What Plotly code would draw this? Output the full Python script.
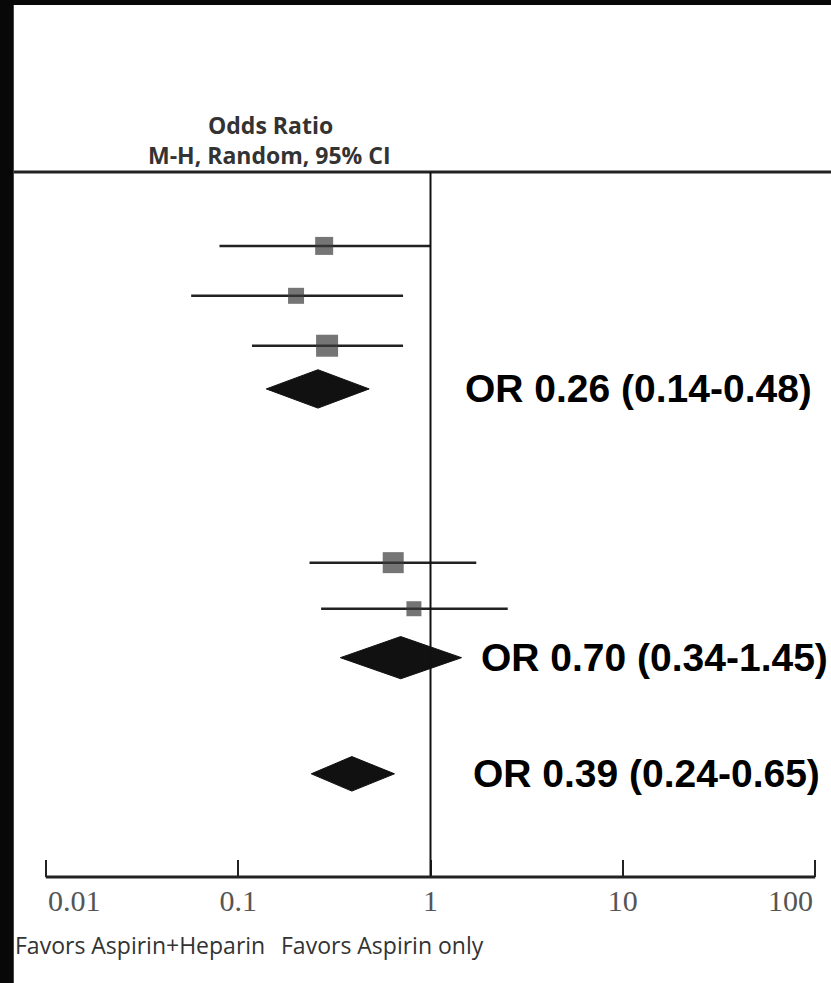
import math
import plotly.graph_objects as go

# ---- data ----
study_rows = [1, 2.04, 3.08, 7.6, 8.56]
study_or = [0.28, 0.20, 0.29, 0.64, 0.82]
study_lo = [0.08, 0.057, 0.118, 0.235, 0.27]
study_hi = [1.0, 0.72, 0.72, 1.73, 2.52]
study_weight = [18, 16, 22, 21, 15]

pooled_rows = [3.98, 9.58, 12.0]
pooled_or = [0.26, 0.70, 0.39]
pooled_lo = [0.14, 0.34, 0.24]
pooled_hi = [0.48, 1.45, 0.65]
pooled_labels = ["OR 0.26 (0.14-0.48)", "OR 0.70 (0.34-1.45)", "OR 0.39 (0.24-0.65)"]
label_at = [1.48, 1.78, 1.63]  # odds-ratio position where each label starts

tick_vals = [0.01, 0.1, 1, 10, 100]
tick_text = ["0.01", "0.1", "1", "10", "100"]

W, H = 831, 983
X0PIX, X1PIX = 46, 815          # pixel of 0.01 and 100
DEC = (X1PIX - X0PIX) / 4       # pixels per decade
PAD = 0.03                      # extra range (decades) beyond 0.01 / 100
L = X0PIX - PAD * DEC
R = (W - X1PIX) - PAD * DEC
T, B = 172, 106
PW, PH = W - L - R, H - T - B

def px(xpix):
    return (xpix - L) / PW

def py(ypix):
    return 1 - (ypix - T) / PH

fig = go.Figure()

# CI lines
for r, lo, hi in zip(study_rows, study_lo, study_hi):
    fig.add_trace(go.Scatter(x=[lo, hi], y=[r, r], mode="lines",
                             line=dict(color="#222222", width=2.5),
                             hoverinfo="skip", showlegend=False))
# squares
fig.add_trace(go.Scatter(x=study_or, y=study_rows, mode="markers",
                         marker=dict(symbol="square", size=study_weight, color="#3a3a3a",
                                     line=dict(width=0)),
                         showlegend=False))

# diamonds
half_h = [0.4, 0.44, 0.36]
for r, o, lo, hi, hh in zip(pooled_rows, pooled_or, pooled_lo, pooled_hi, half_h):
    fig.add_trace(go.Scatter(x=[lo, o, hi, o, lo], y=[r, r - hh, r, r + hh, r],
                             mode="lines", fill="toself", fillcolor="#111111",
                             line=dict(color="#111111", width=1),
                             hoverinfo="skip", showlegend=False))

# OR annotations (log axis -> annotation x in log10 units)
for r, lab, lx in zip(pooled_rows, pooled_labels, label_at):
    fig.add_annotation(x=math.log10(lx), y=r, xref="x", yref="y", text=lab, showarrow=False,
                       xanchor="left", yanchor="middle",
                       font=dict(family="Liberation Sans, Arial", size=39, color="#000000",
                                 weight="bold"))

shapes = [
    # white panel
    dict(type="rect", xref="paper", yref="paper", x0=px(14), x1=px(W + 2),
         y0=py(H + 2), y1=py(5), fillcolor="white", line=dict(width=0), layer="below"),
    # top separator line
    dict(type="line", xref="paper", yref="paper", x0=px(14), x1=px(W + 2), y0=1, y1=1,
         line=dict(color="#222222", width=3)),
    # line of no effect
    dict(type="line", xref="x", yref="paper", x0=1, x1=1, y0=0, y1=1,
         line=dict(color="#111111", width=2)),
    # axis line between 0.01 and 100
    dict(type="line", xref="x", yref="paper", x0=tick_vals[0], x1=tick_vals[-1], y0=0, y1=0,
         line=dict(color="#222222", width=3)),
]
fig.update_layout(shapes=shapes)

tick_font = dict(family="Liberation Serif, DejaVu Serif", size=30, color="#555555")
# end tick labels kept inside the panel: left-aligned at 0.01, right-aligned at 100
axis_text = ["" for _ in tick_text]
for i, (v, t) in enumerate(zip(tick_vals, tick_text)):
    if i == 0 or i == len(tick_vals) - 1:
        fig.add_annotation(x=math.log10(v), y=py(900), xref="x", yref="paper", text=t,
                           showarrow=False, font=tick_font,
                           xanchor="left" if i == 0 else "right", yanchor="middle")
    else:
        axis_text[i] = t

title_font = dict(family="Open Sans, Noto Sans", size=23, color="#333333", weight=700)
fig.add_annotation(x=px(271), y=py(125), xref="paper", yref="paper",
                   text="Odds Ratio", showarrow=False, font=title_font,
                   xanchor="center", yanchor="middle")
fig.add_annotation(x=px(270), y=py(155), xref="paper", yref="paper",
                   text="M-H, Random, 95% CI", showarrow=False, font=title_font,
                   xanchor="center", yanchor="middle")

fav_font = dict(family="Open Sans, Noto Sans", size=23, color="#333333", weight=500)
fig.add_annotation(x=px(13), y=py(945), xref="paper", yref="paper",
                   text="Favors Aspirin+Heparin", showarrow=False, font=fav_font,
                   xanchor="left", yanchor="middle")
fig.add_annotation(x=px(279), y=py(945), xref="paper", yref="paper",
                   text="Favors Aspirin only", showarrow=False, font=fav_font,
                   xanchor="left", yanchor="middle")

fig.update_xaxes(type="log", range=[-2 - PAD, 2 + PAD], tickvals=tick_vals, ticktext=axis_text,
                 showgrid=False, zeroline=False, showline=False, automargin=False,
                 ticks="inside", ticklen=17, tickwidth=2, tickcolor="#222222",
                 tickfont=tick_font, ticklabelstandoff=3)
fig.update_yaxes(range=[14.15, -0.54], visible=False, showgrid=False, zeroline=False,
                 automargin=False)

fig.update_layout(width=W, height=H, margin=dict(l=L, r=R, t=T, b=B, autoexpand=False),
                  paper_bgcolor="#080808", plot_bgcolor="rgba(0,0,0,0)",
                  showlegend=False)

fig.write_html("out.html", config={"displayModeBar": False},
               post_script="document.body.style.margin='0';document.body.style.overflow='hidden';")
